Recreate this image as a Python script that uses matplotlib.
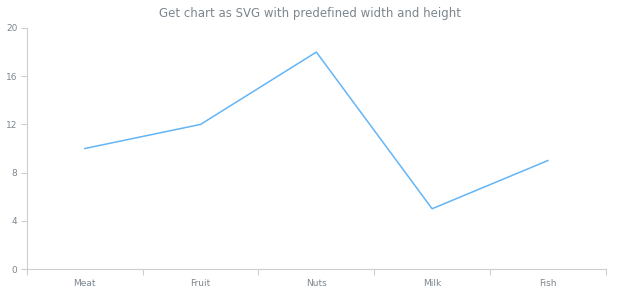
import matplotlib
matplotlib.use("Agg")
import matplotlib.pyplot as plt
import numpy as np

categories = ["Meat", "Fruit", "Nuts", "Milk", "Fish"]
values = [10, 12, 18, 5, 9]
y_ticks = [0, 4, 8, 12, 16, 20]

text_color = "#7c868e"
axis_color = "#cecece"

plt.rcParams["font.family"] = ["DejaVu Sans"]

fig = plt.figure(figsize=(6.2, 3.0), dpi=100)
ax = fig.add_axes([0.0435, 0.1033, 0.9335, 0.8034])

x = np.arange(len(categories))
ax.plot(x, values, color="#64b5f6", linewidth=1.1)

ax.set_xlim(-0.5, len(categories) - 0.5)
ax.set_ylim(0, 20)

# boundary ticks (no labels), labels centred on categories
ax.set_xticks(np.arange(len(categories) + 1) - 0.5)
ax.set_xticklabels([])
ax.set_xticks(x, minor=True)
ax.set_xticklabels(categories, minor=True)
ax.tick_params(axis="x", which="major", length=4, color=axis_color, direction="out")
ax.tick_params(axis="x", which="minor", length=0, pad=7, labelsize=6.5, labelcolor=text_color)

ax.set_yticks(y_ticks)
ax.tick_params(axis="y", length=4, color=axis_color, labelsize=6.5, labelcolor=text_color, pad=3)

for side in ["top", "right"]:
    ax.spines[side].set_visible(False)
for side in ["left", "bottom"]:
    ax.spines[side].set_color(axis_color)
    ax.spines[side].set_linewidth(0.8)

fig.text(0.5, 0.955, "Get chart as SVG with predefined width and height",
         ha="center", va="center", fontsize=8.5, color=text_color)

fig.savefig("out.png", dpi=100)
